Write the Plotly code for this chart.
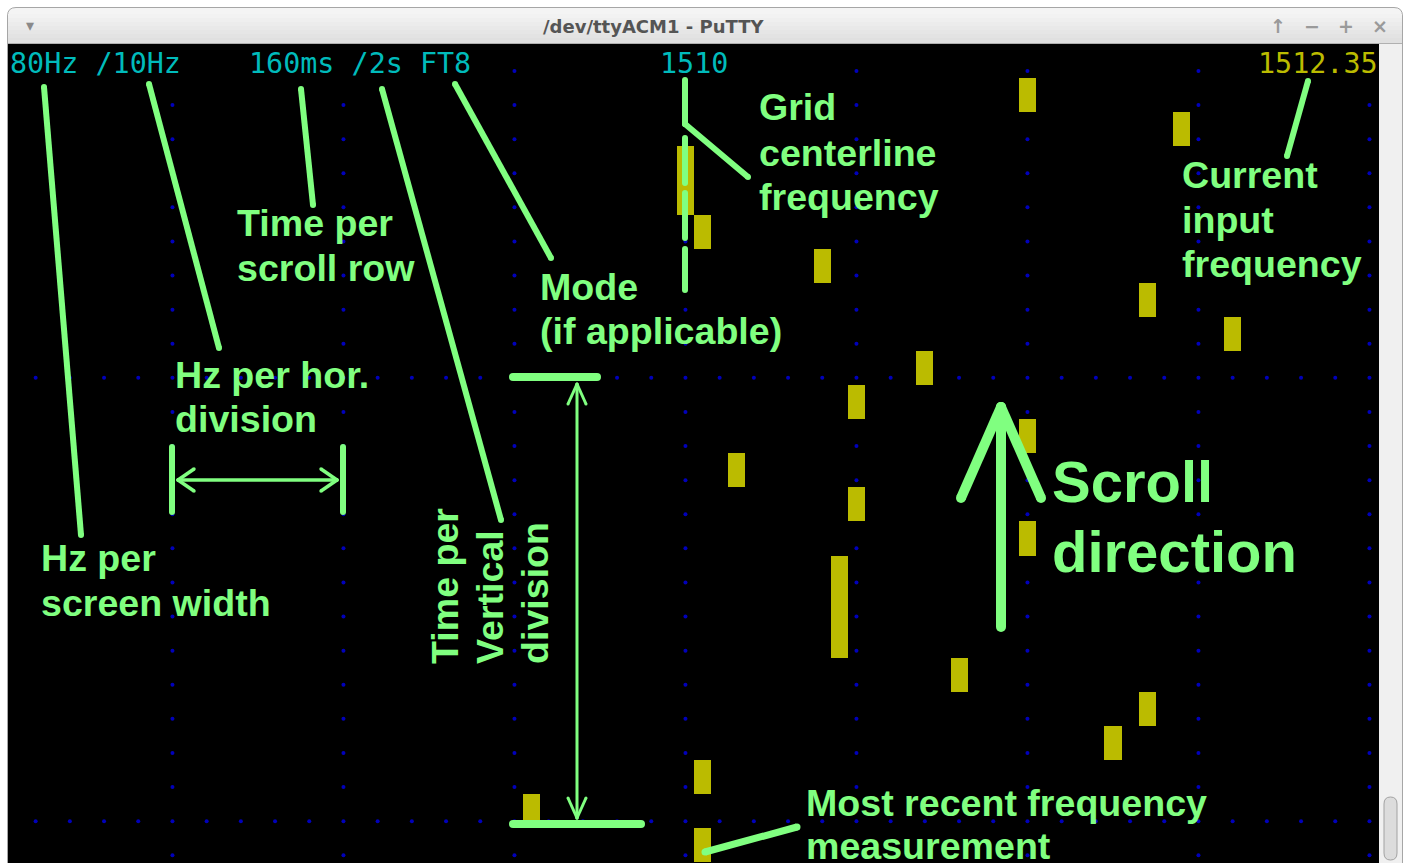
import plotly.graph_objects as go

W, H = 1407, 863

# ---------------- data ----------------
centre_freq = 1510            # Hz, grid centre line
centre_col = 39               # terminal column of the centre line
screen_cols = 80              # 80 Hz per screen width, 1 Hz per column
screen_rows = 24              # 160 ms per row

# frequency measurements (Hz), row where they start, number of rows
bar_freq = [1530, 1539, 1510, 1511, 1518, 1537, 1542, 1524, 1520, 1530,
            1513, 1520, 1530, 1519, 1526, 1537, 1535, 1511, 1501, 1511]
bar_row = [1, 2, 3, 5, 6, 7, 8, 9, 10, 11,
           12, 13, 14, 15, 18, 19, 20, 21, 22, 23]
bar_len = [1, 1, 2, 1, 1, 1, 1, 1, 1, 1,
           1, 1, 1, 3, 1, 1, 1, 1, 1, 1]

grid_freqs = [1480, 1490, 1500, 1510, 1520, 1530, 1540, 1550]   # every 10 Hz
grid_rows = [9, 22]                                             # every 2 s
header_text = ["80Hz /10Hz", "160ms /2s FT8", "1510", "1512.35"]
header_col = [0, 14, 38, 73]
header_color = ["#00BBBB", "#00BBBB", "#00BBBB", "#BBBB00"]

# ---------------- geometry (layout only) ----------------
COL_PX, ROW_PX = 17.1, 34.1
TERM_X, TERM_Y = 10, 44
f_edge0 = centre_freq - centre_col - 0.5          # left edge of column 0
x_range = [f_edge0 - TERM_X / COL_PX, f_edge0 + (W - TERM_X) / COL_PX]
y_range = [(H - TERM_Y) / ROW_PX, -TERM_Y / ROW_PX]
DOT_OFF = 0.79

GREEN = "#80FF80"
BLUE = "#0000BB"
YELLOW = "#BBBB00"


def col_of(f):
    return int(round(f - centre_freq + centre_col))


covered = set()
for t, c in zip(header_text, header_col):
    covered.update(range(c, c + len(t)))

bar_cells = set()
for f, r, n in zip(bar_freq, bar_row, bar_len):
    for k in range(n):
        bar_cells.add((f, r + k))

seen = set()
for r in range(screen_rows):
    for f in grid_freqs:
        if r == 0 and col_of(f) in covered:
            continue
        seen.add((f, r))
for r in grid_rows:
    for f in range(int(f_edge0 + 1.5), int(f_edge0 + screen_cols) + 1, 2):
        seen.add((f, r))
dx, dy = [], []
for f, r in sorted(seen):
    if (f, r) in bar_cells:
        continue
    dx.append(f)
    dy.append(r + DOT_OFF)

fig = go.Figure()
fig.add_trace(go.Scatter(x=dx, y=dy, mode="markers",
                         marker=dict(size=4, color=BLUE, line=dict(width=0)),
                         hoverinfo="skip", showlegend=False))
fig.add_trace(go.Bar(x=bar_freq, y=bar_len, base=bar_row, width=1,
                     marker=dict(color=YELLOW, line=dict(width=0)),
                     hoverinfo="skip", showlegend=False))


def X(px):
    return px / W


def Y(py):
    return 1 - py / H


shapes = []
annots = []

# ---- window chrome ----
shapes.append(dict(type="rect", xref="paper", yref="paper", x0=0, x1=1, y0=0, y1=1,
                   fillcolor="white", line=dict(width=0), layer="below"))
path = (f"M {X(7.5)},{Y(870)} L {X(7.5)},{Y(16)} Q {X(7.5)},{Y(7.5)} {X(16)},{Y(7.5)} "
        f"L {X(1394)},{Y(7.5)} Q {X(1402.5)},{Y(7.5)} {X(1402.5)},{Y(16)} L {X(1402.5)},{Y(870)} Z")
shapes.append(dict(type="path", xref="paper", yref="paper", path=path,
                   fillcolor="#F4F4F4", line=dict(color="#A6A6A6", width=1), layer="below"))
band_cols = ["#F2F2F2", "#EFEFEF", "#ECECEC", "#E9E9E9", "#E6E6E6", "#E3E3E3", "#E0E0E0"]
y0 = 14
for i, c in enumerate(band_cols):
    shapes.append(dict(type="rect", xref="paper", yref="paper", x0=X(8), x1=X(1402),
                       y0=Y(y0 + 4 * (i + 1) + (1 if i == len(band_cols) - 1 else 0)), y1=Y(y0 + 4 * i),
                       fillcolor=c, line=dict(width=0), layer="below"))
shapes.append(dict(type="line", xref="paper", yref="paper", x0=X(8), x1=X(1402), y0=Y(43.5), y1=Y(43.5),
                   line=dict(color="#B0B0B0", width=1), layer="below"))
# terminal area
shapes.append(dict(type="rect", xref="paper", yref="paper", x0=X(8), x1=X(1379), y0=Y(H + 2), y1=Y(44),
                   fillcolor="black", line=dict(width=0), layer="below"))
# scrollbar
shapes.append(dict(type="rect", xref="paper", yref="paper", x0=X(1379), x1=X(1402), y0=Y(H + 2), y1=Y(44),
                   fillcolor="#F0F0F0", line=dict(width=0), layer="below"))
shapes.append(dict(type="line", xref="paper", yref="paper", x0=X(1402.5), x1=X(1402.5), y0=Y(H + 2), y1=Y(16),
                   line=dict(color="#A6A6A6", width=1), layer="below"))
tp = (f"M {X(1384)},{Y(853)} L {X(1384)},{Y(804)} Q {X(1384)},{Y(797)} {X(1390.5)},{Y(797)} "
      f"Q {X(1397)},{Y(797)} {X(1397)},{Y(804)} L {X(1397)},{Y(853)} "
      f"Q {X(1397)},{Y(860)} {X(1390.5)},{Y(860)} Q {X(1384)},{Y(860)} {X(1384)},{Y(853)} Z")
shapes.append(dict(type="path", xref="paper", yref="paper", path=tp,
                   fillcolor="#DCDCDC", line=dict(color="#A2A2A2", width=1), layer="below"))

annots.append(dict(text="/dev/ttyACM1 - PuTTY", xref="paper", yref="paper", x=X(653.5), y=Y(26),
                   xanchor="center", yanchor="middle", showarrow=False,
                   font=dict(family="DejaVu Sans", size=18, color="#555555", weight="bold")))
annots.append(dict(text="▾", xref="paper", yref="paper", x=X(30), y=Y(25),
                   xanchor="center", yanchor="middle", showarrow=False,
                   font=dict(family="DejaVu Sans", size=16, color="#8A8A8A")))
for t, xx in zip(["↑", "−", "+", "×"], [1278, 1312, 1346, 1380]):
    annots.append(dict(text=t, xref="paper", yref="paper", x=X(xx), y=Y(26),
                       xanchor="center", yanchor="middle", showarrow=False,
                       font=dict(family="DejaVu Sans", size=19, color="#9A9A9A", weight="bold")))

# ---- terminal header line ----
for t, c, col in zip(header_text, header_col, header_color):
    annots.append(dict(text=t, xref="x", yref="y", x=f_edge0 + c, y=0.58,
                       xanchor="left", yanchor="middle", showarrow=False, xshift=-2,
                       font=dict(family="DejaVu Sans Mono", size=28.4, color=col)))


# ---- green annotation marks ----
def seg(x0, y0, x1, y1, w):
    shapes.append(dict(type="line", xref="paper", yref="paper", x0=X(x0), y0=Y(y0), x1=X(x1), y1=Y(y1),
                       line=dict(color=GREEN, width=w), layer="above"))
    for (cx, cy) in ((x0, y0), (x1, y1)):
        r = w / 2
        shapes.append(dict(type="circle", xref="paper", yref="paper", x0=X(cx - r), x1=X(cx + r),
                           y0=Y(cy + r), y1=Y(cy - r), fillcolor=GREEN, line=dict(width=0), layer="above"))


seg(44, 87, 81, 535, 6)
seg(149, 84, 219, 348, 6)
seg(301, 89, 313, 205, 6)
seg(382, 89, 501, 520, 6)
seg(455, 84, 551, 258, 6)
seg(1308, 81, 1287, 156, 6)
seg(705, 852, 797, 827, 7)
# centre line
seg(685, 80, 685, 124, 6)
seg(685, 124, 748, 177, 6)
seg(685, 138, 685, 183, 6)
seg(685, 193, 685, 238, 6)
seg(685, 249, 685, 290, 6)
# Hz per division
seg(172, 447, 172, 512, 6)
seg(343, 447, 343, 512, 6)
seg(178, 480, 337, 480, 3.5)
seg(178, 480, 194, 469, 3.5)
seg(178, 480, 194, 491, 3.5)
seg(337, 480, 321, 469, 3.5)
seg(337, 480, 321, 491, 3.5)
# time per division
seg(513, 377, 597, 377, 8)
seg(513, 824, 641, 824, 8)
seg(577, 384, 577, 818, 3)
seg(577, 384, 568, 404, 3)
seg(577, 384, 586, 404, 3)
seg(577, 818, 568, 798, 3)
seg(577, 818, 586, 798, 3)
# scroll arrow
seg(1001, 407, 1001, 627, 10)
seg(1001, 407, 961, 498, 10)
seg(1001, 407, 1041, 498, 10)

FS = 37.6


def label(txt, x, base, size=FS):
    annots.append(dict(text=txt, xref="paper", yref="paper", x=X(x - 3), y=Y(base + 0.212 * size + 2),
                       xanchor="left", yanchor="bottom", showarrow=False,
                       font=dict(family="Liberation Sans", size=size, color=GREEN, weight="bold")))


label("Grid", 760, 120)
label("centerline", 760, 166)
label("frequency", 760, 210)
label("Time per", 238, 236)
label("scroll row", 238, 281)
label("Mode", 541, 300)
label("(if applicable)", 541, 344)
label("Current", 1183, 188)
label("input", 1183, 233)
label("frequency", 1183, 277)
label("Hz per hor.", 176, 388)
label("division", 176, 432)
label("Hz per", 42, 571)
label("screen width", 42, 616)
label("Most recent frequency", 807, 816)
label("measurement", 807, 859)
label("Scroll", 1053, 502, 58)
label("direction", 1053, 572, 58)

for txt, bx in zip(["Time per", "Vertical", "division"], [458, 503, 548]):
    s = FS
    annots.append(dict(text=txt, xref="paper", yref="paper", x=X(bx - 0.905 * s - 2), y=Y(663 + 3),
                       xanchor="left", yanchor="bottom", showarrow=False, textangle=-90,
                       font=dict(family="Liberation Sans", size=s, color=GREEN, weight="bold")))

fig.update_layout(
    width=W, height=H, margin=dict(l=0, r=0, t=0, b=0, pad=0),
    paper_bgcolor="white", plot_bgcolor="white",
    xaxis=dict(range=x_range, visible=False, fixedrange=True),
    yaxis=dict(range=y_range, visible=False, fixedrange=True),
    showlegend=False, bargap=0,
    shapes=shapes, annotations=annots,
)

fig.write_html("out.html", config={"displayModeBar": False},
               post_script="document.body.style.margin='0';")
